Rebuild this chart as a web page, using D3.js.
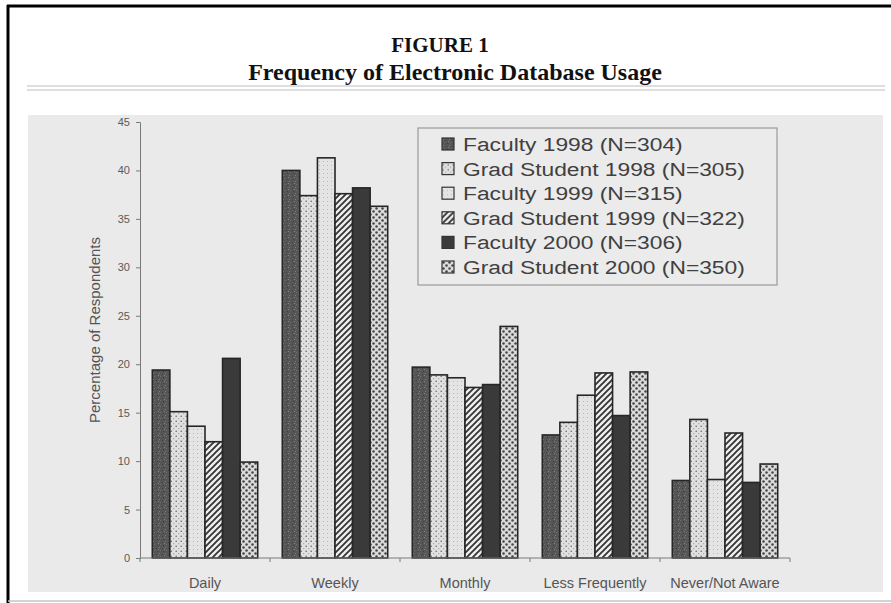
<!DOCTYPE html>
<html>
<head>
<meta charset="utf-8">
<script src="https://cdn.jsdelivr.net/npm/d3@7"></script>
<style>
  html, body { margin: 0; padding: 0; background: #fff; }
  svg { display: block; }
</style>
</head>
<body>
<div id="chart"></div>
<script>
// Frequency of Electronic Database Usage — grouped bars, scanned-figure look

const categories = ['Daily', 'Weekly', 'Monthly', 'Less Frequently', 'Never/Not Aware'];
const seriesNames = [
  'Faculty 1998 (N=304)',
  'Grad Student 1998 (N=305)',
  'Faculty 1999 (N=315)',
  'Grad Student 1999 (N=322)',
  'Faculty 2000 (N=306)',
  'Grad Student 2000 (N=350)'
];
const faculty1998 = [19.4, 40.0, 19.7, 12.7, 8.0];
const grad1998    = [15.1, 37.4, 18.9, 14.0, 14.3];
const faculty1999 = [13.6, 41.3, 18.6, 16.8, 8.1];
const grad1999    = [12.0, 37.6, 17.6, 19.1, 12.9];
const faculty2000 = [20.6, 38.2, 17.9, 14.7, 7.8];
const grad2000    = [9.9, 36.3, 23.9, 19.2, 9.7];
const yTicks = [0, 5, 10, 15, 20, 25, 30, 35, 40, 45];

const seriesValues = [faculty1998, grad1998, faculty1999, grad1999, faculty2000, grad2000];

const W = 891, H = 603;
const svg = d3.select('#chart').append('svg').attr('width', W).attr('height', H);

// ---- patterns for the bar fills
const defs = svg.append('defs');
function pat(id, size, bg, draw) {
  const p = defs.append('pattern').attr('id', id).attr('patternUnits', 'userSpaceOnUse')
    .attr('width', size).attr('height', size);
  p.append('rect').attr('width', size).attr('height', size).attr('fill', bg);
  draw(p);
}
// dark speckled
pat('p0', 6, '#565656', p => {
  [[1, 1, '#7d7d7d'], [4, 2, '#424242'], [2, 4, '#6e6e6e'], [5, 5, '#3f3f3f'], [0, 3, '#848484']]
    .forEach(([x, y, c]) => p.append('rect').attr('x', x).attr('y', y).attr('width', 1).attr('height', 1).attr('fill', c));
});
// light dotted
pat('p1', 5, '#e0e0e0', p => {
  p.append('circle').attr('cx', 1.2).attr('cy', 1.2).attr('r', 0.8).attr('fill', '#666');
  p.append('circle').attr('cx', 3.7).attr('cy', 3.7).attr('r', 0.6).attr('fill', '#999');
});
// very light fine dots
pat('p2', 4, '#e4e4e4', p => {
  p.append('rect').attr('x', 1).attr('y', 1).attr('width', 1).attr('height', 1).attr('fill', '#b8b8b8');
});
// diagonal stripes
pat('p3', 6, '#efefef', p => {
  p.append('path').attr('d', 'M-1,7 L7,-1 M-1,1 L1,-1 M5,7 L7,5')
    .attr('stroke', '#363636').attr('stroke-width', 1.9);
});
// checkered dots
pat('p5', 6, '#dadada', p => {
  p.append('circle').attr('cx', 1.5).attr('cy', 1.5).attr('r', 1.25).attr('fill', '#454545');
  p.append('circle').attr('cx', 4.5).attr('cy', 4.5).attr('r', 1.25).attr('fill', '#454545');
});
const fills = ['url(#p0)', 'url(#p1)', 'url(#p2)', 'url(#p3)', '#3a3a3a', 'url(#p5)'];

// ---- frame & titles
svg.append('line').attr('x1', 8).attr('x2', 8).attr('y1', 5).attr('y2', H).attr('stroke', '#000').attr('stroke-width', 3);
svg.append('line').attr('x1', 7).attr('x2', W).attr('y1', 6).attr('y2', 6).attr('stroke', '#000').attr('stroke-width', 3);
svg.append('line').attr('x1', 8).attr('x2', W).attr('y1', 601).attr('y2', 601).attr('stroke', '#c4c4c4').attr('stroke-width', 1.5);

svg.append('text').attr('x', 440).attr('y', 52).attr('text-anchor', 'middle')
  .attr('font-family', '"Liberation Serif", "Times New Roman", serif').attr('font-weight', 'bold')
  .attr('font-size', 21).attr('fill', '#111').text('FIGURE 1');
svg.append('text').attr('x', 455).attr('y', 80).attr('text-anchor', 'middle')
  .attr('font-family', '"Liberation Serif", "Times New Roman", serif').attr('font-weight', 'bold')
  .attr('font-size', 24).attr('fill', '#111').text('Frequency of Electronic Database Usage');
[86, 90].forEach(y => svg.append('line').attr('x1', 27).attr('x2', 885).attr('y1', y).attr('y2', y)
  .attr('stroke', '#bdbdbd').attr('stroke-width', 1));

// plot background
svg.append('rect').attr('x', 28).attr('y', 115).attr('width', 855).attr('height', 477).attr('fill', '#eaeaea');

// ---- scales
const x0 = d3.scaleBand().domain(categories).range([140, 790]).paddingInner(0).paddingOuter(0);
const x1 = d3.scaleBand().domain(d3.range(seriesNames.length)).range([0, x0.bandwidth()])
  .paddingInner(0).paddingOuter(0.7);
const y = d3.scaleLinear().domain([0, 45]).range([558, 122]);

// ---- axes
const yAxis = svg.append('g').attr('transform', 'translate(140,0)')
  .call(d3.axisLeft(y).tickValues(yTicks).tickSize(4).tickPadding(6));
yAxis.select('.domain').attr('stroke', '#7a7a7a');
yAxis.selectAll('.tick line').attr('stroke', '#7a7a7a');
yAxis.selectAll('.tick text').attr('font-family', '"Liberation Sans", Arial, sans-serif')
  .attr('font-size', 11).attr('fill', '#5a5a5a');

svg.append('text').attr('transform', 'translate(100,330) rotate(-90)').attr('text-anchor', 'middle')
  .attr('font-family', '"Liberation Sans", Arial, sans-serif').attr('font-size', 15).attr('fill', '#555')
  .text('Percentage of Respondents');

// bars
const groups = svg.append('g').selectAll('g').data(categories).join('g')
  .attr('transform', d => `translate(${x0(d)},0)`);
groups.selectAll('rect').data((c, ci) => seriesValues.map((vals, si) => ({ si, v: vals[ci] })))
  .join('rect')
  .attr('x', d => x1(d.si)).attr('width', x1.bandwidth())
  .attr('y', d => y(d.v)).attr('height', d => y(0) - y(d.v))
  .attr('fill', d => fills[d.si]).attr('stroke', '#262626').attr('stroke-width', 1.6);

// x axis: ticks at the category boundaries
const xAxis = svg.append('g').attr('transform', `translate(0,${y(0)})`);
xAxis.append('line').attr('x1', 140).attr('x2', 790).attr('stroke', '#7a7a7a');
xAxis.selectAll('line.tk').data(categories.concat(['end'])).join('line').attr('class', 'tk')
  .attr('x1', (d, i) => 140 + i * x0.step()).attr('x2', (d, i) => 140 + i * x0.step())
  .attr('y1', 0).attr('y2', 4).attr('stroke', '#7a7a7a');
xAxis.selectAll('text').data(categories).join('text')
  .attr('x', d => x0(d) + x0.bandwidth() / 2).attr('y', 30).attr('text-anchor', 'middle')
  .attr('font-family', '"Liberation Sans", Arial, sans-serif').attr('font-size', 14.5).attr('fill', '#555')
  .text(d => d);

// ---- legend
const lg = svg.append('g');
lg.append('rect').attr('x', 418).attr('y', 128).attr('width', 359).attr('height', 157)
  .attr('fill', '#ebebeb').attr('stroke', '#9a9a9a').attr('stroke-width', 1.2);
const rowY = d3.scalePoint().domain(d3.range(seriesNames.length)).range([144, 267]);
const rows = lg.selectAll('g.row').data(seriesNames).join('g').attr('class', 'row')
  .attr('transform', (d, i) => `translate(442,${rowY(i)})`);
rows.append('rect').attr('x', 0).attr('y', -6).attr('width', 12).attr('height', 12)
  .attr('fill', (d, i) => fills[i]).attr('stroke', '#333').attr('stroke-width', 1.2);
rows.append('text').attr('transform', 'translate(21,7) scale(1.2,1)')
  .attr('font-family', '"Liberation Sans", Arial, sans-serif').attr('font-size', 19).attr('fill', '#404040')
  .text(d => d);
</script>
</body>
</html>
